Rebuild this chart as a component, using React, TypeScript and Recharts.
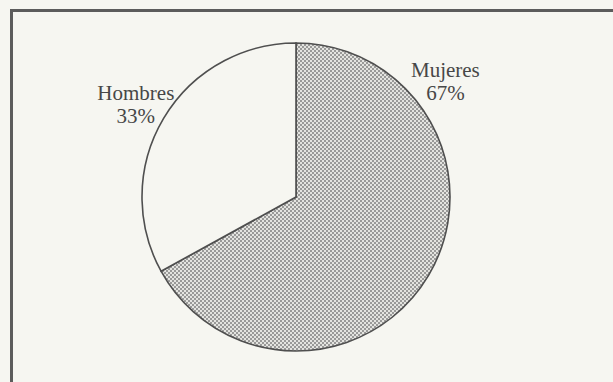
import { PieChart, Pie, Cell } from "recharts";

const categories = ["Mujeres", "Hombres"];
const shares = [67, 33];

const data = categories.map((name, i) => ({ name, value: shares[i] }));

const FILLS = ["url(#dots)", "#f6f6f1"];

// where each two-line label sits, as a fraction of the radius from the centre
const LABEL_POS = [
  { dx: 0.97, dy: -0.78 },
  { dx: -1.04, dy: -0.63 },
];

const renderLabel = (props: any) => {
  const { cx, cy, outerRadius, index, name, percent } = props;
  const pos = LABEL_POS[index];
  const x = cx + pos.dx * outerRadius;
  const y = cy + pos.dy * outerRadius;
  return (
    <text
      x={x}
      y={y}
      textAnchor="middle"
      fill="#474747"
      fontFamily="'Liberation Serif', serif"
      fontSize={21}
    >
      <tspan x={x} y={y}>
        {name}
      </tspan>
      <tspan x={x} y={y + 23}>
        {`${Math.round(percent * 100)}%`}
      </tspan>
    </text>
  );
};

export default function App() {
  return (
    <div
      style={{
        position: "fixed",
        left: 0,
        top: 0,
        width: 613,
        height: 382,
        overflow: "hidden",
        background: "#f6f6f1",
      }}
    >
      {/* dotted halftone fill used by the big slice */}
      <svg width={0} height={0} style={{ position: "absolute" }}>
        <defs>
          <pattern id="dots" width={4} height={4} patternUnits="userSpaceOnUse">
            <rect width={4} height={4} fill="#e4e4e0" />
            <circle cx={1} cy={1} r={0.95} fill="#7a7a7a" />
            <circle cx={3} cy={3} r={0.95} fill="#7a7a7a" />
          </pattern>
        </defs>
      </svg>
      {/* frame, cut off on the right and bottom like the scan */}
      <div
        style={{
          position: "absolute",
          left: 10,
          top: 9,
          width: 700,
          height: 500,
          border: "3px solid #5c5c5c",
        }}
      />
      <div style={{ position: "absolute", left: 0, top: 0 }}>
        <PieChart
          width={613}
          height={382}
          margin={{ top: 0, right: 0, bottom: 0, left: 0 }}
        >
          <Pie
            data={data}
            dataKey="value"
            nameKey="name"
            cx={296}
            cy={197}
            outerRadius={154}
            startAngle={90}
            endAngle={-270}
            stroke="#4f4f4f"
            strokeWidth={1.6}
            label={renderLabel}
            labelLine={false}
            isAnimationActive={false}
          >
            {data.map((entry, index) => (
              <Cell key={entry.name} fill={FILLS[index]} />
            ))}
          </Pie>
        </PieChart>
      </div>
    </div>
  );
}
